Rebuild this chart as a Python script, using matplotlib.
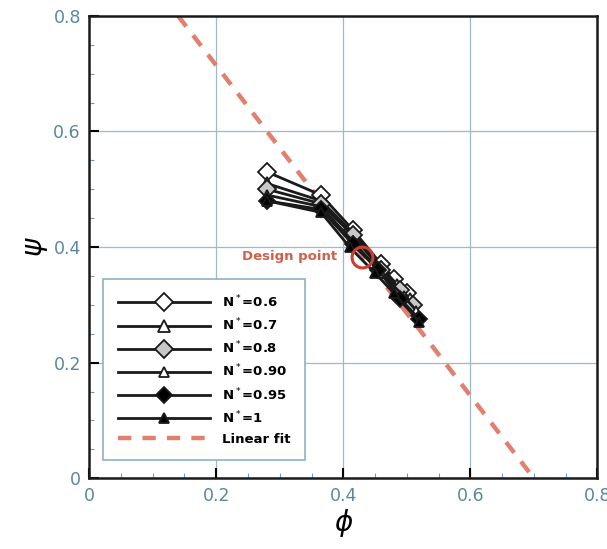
import matplotlib.pyplot as plt
from matplotlib.ticker import MultipleLocator

# data
phi_06 = [0.28, 0.365, 0.415, 0.46, 0.48, 0.50]
psi_06 = [0.53, 0.49, 0.43, 0.37, 0.345, 0.32]
phi_07 = [0.28, 0.365, 0.415, 0.46, 0.485, 0.505]
psi_07 = [0.51, 0.48, 0.425, 0.365, 0.335, 0.31]
phi_08 = [0.28, 0.365, 0.415, 0.46, 0.49, 0.51]
psi_08 = [0.50, 0.475, 0.42, 0.36, 0.325, 0.30]
phi_09 = [0.28, 0.365, 0.415, 0.46, 0.495, 0.515]
psi_09 = [0.49, 0.47, 0.41, 0.355, 0.315, 0.29]
phi_095 = [0.28, 0.365, 0.415, 0.455, 0.49, 0.52]
psi_095 = [0.48, 0.465, 0.405, 0.36, 0.31, 0.275]
phi_1 = [0.28, 0.365, 0.41, 0.45, 0.48, 0.52]
psi_1 = [0.48, 0.46, 0.40, 0.355, 0.32, 0.27]
fit_phi = [0.14, 0.70]
fit_psi = [0.80, 0.0]
design_phi = 0.43
design_psi = 0.383

fig = plt.figure(figsize=(6.07, 5.49), dpi=100)
ax = fig.add_axes([0.147, 0.129, 0.837, 0.842])

ax.grid(True, color="#9fb8cc", linewidth=0.9)
ax.set_axisbelow(True)

fit_handle, = ax.plot(fit_phi, fit_psi, linestyle=(0, (3, 2.5)), color="#e2806f",
                      linewidth=3.2, label="Linear fit", zorder=2)

series = [
    (phi_06, psi_06, "D", "white", 9, "N$^*$=0.6"),
    (phi_07, psi_07, "^", "white", 8, "N$^*$=0.7"),
    (phi_08, psi_08, "D", "#c8c8c8", 9, "N$^*$=0.8"),
    (phi_09, psi_09, "^", "white", 7, "N$^*$=0.90"),
    (phi_095, psi_095, "D", "black", 8, "N$^*$=0.95"),
    (phi_1, psi_1, "^", "black", 7, "N$^*$=1"),
]
handles = []
for x, y, m, fc, ms, lab in series:
    h, = ax.plot(x, y, color="#1a1a1a", linewidth=2.0, marker=m, markerfacecolor=fc,
                 markeredgecolor="#1a1a1a", markersize=ms, markeredgewidth=1.3,
                 label=lab, zorder=3)
    handles.append(h)
handles.append(fit_handle)

ax.plot(design_phi, design_psi, marker="o", markersize=15, markerfacecolor="none",
        markeredgecolor="#c8402f", markeredgewidth=2.2, zorder=4)
ax.text(design_phi - 0.04, design_psi, "Design point", color="#d0604c", fontsize=9.5,
        fontweight="bold", ha="right", va="center", zorder=5)

ax.set_xlim(0, 0.8)
ax.set_ylim(0, 0.8)
ax.set_xticks([0, 0.2, 0.4, 0.6, 0.8])
ax.set_yticks([0, 0.2, 0.4, 0.6, 0.8])
ax.set_xticklabels(["0", "0.2", "0.4", "0.6", "0.8"])
ax.set_yticklabels(["0", "0.2", "0.4", "0.6", "0.8"])
ax.xaxis.set_minor_locator(MultipleLocator(0.05))
ax.yaxis.set_minor_locator(MultipleLocator(0.05))
ax.tick_params(which="major", direction="in", length=7, width=1.5, labelsize=12.5,
               labelcolor="#5b87a0", pad=6)
ax.tick_params(which="minor", direction="in", length=3.5, width=0.8, color="#7a9ab0")
for s in ax.spines.values():
    s.set_linewidth(1.8)
    s.set_color("#1a1a1a")

ax.set_xlabel(r"$\phi$", fontsize=20, labelpad=2)
ax.set_ylabel(r"$\psi$", fontsize=20, labelpad=2)

leg = ax.legend(handles=handles, loc="lower left", bbox_to_anchor=(0.028, 0.039),
                fancybox=False, edgecolor="#8fb0c8", framealpha=1, handlelength=7.0,
                handletextpad=0.9, borderpad=1.1, borderaxespad=0, labelspacing=0.5,
                prop={"weight": "bold", "size": 9.5})
leg.get_frame().set_linewidth(1.2)

fig.savefig("out.png", dpi=100)
